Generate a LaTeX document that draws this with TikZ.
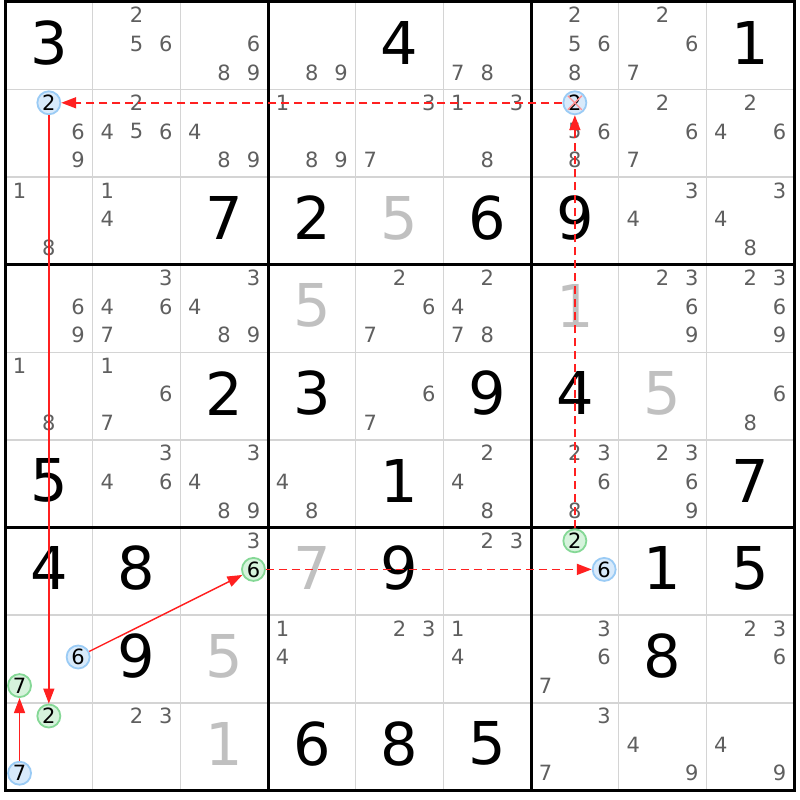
\documentclass[tikz,border=0pt]{standalone}
\usepackage{fontspec}
\setmainfont{DejaVu Sans}
\usetikzlibrary{arrows.meta}
\definecolor{cand}{HTML}{5F5F5F}
\definecolor{ghost}{HTML}{C0C0C0}
\definecolor{thingrid}{HTML}{D4D4D4}
\definecolor{lnk}{HTML}{FF2020}
\definecolor{bfill}{HTML}{D8EAFB}
\definecolor{bdraw}{HTML}{9ACBF5}
\definecolor{gfill}{HTML}{D6F3DC}
\definecolor{gdraw}{HTML}{85D896}
\definecolor{xred}{HTML}{FF9090}
\begin{document}
\begin{tikzpicture}[x=1pt,y=-1pt,
  bigd/.style={font=\fontsize{59}{59}\selectfont, inner sep=0pt},
  givd/.style={bigd, text=black},
  ghostd/.style={bigd, text=ghost},
  candd/.style={font=\fontsize{21}{21}\selectfont, text=cand, inner sep=0pt},
  circbase/.style={circle, line width=1.8pt, minimum size=23pt, inner sep=0pt, font=\fontsize{21}{21}\selectfont, text=black},
  circb/.style={circbase, draw=bdraw, fill=bfill},
  circg/.style={circbase, draw=gdraw, fill=gfill},
  strong/.style={draw=lnk, line width=1.4pt, -{Triangle[length=15pt,width=11pt]}},
  weak/.style={strong, line width=1.8pt, dash pattern=on 8pt off 5pt},
  thinline/.style={draw=thingrid, line width=1.5pt},
  thickline/.style={draw=black, line width=3pt, line cap=rect},
]
\useasboundingbox (0,0) rectangle (800,800);
\fill[white] (0,0) rectangle (800,800);
% grid
\foreach \i in {1,2,4,5,7,8} {
  \draw[thinline] ({5+\i*87.67},2) -- ({5+\i*87.67},790.4);
  \draw[thinline] (5,{2+\i*87.6}) -- (794,{2+\i*87.6});
}
\foreach \i in {0,3,6,9} {
  \draw[thickline] ({5+\i*87.67},2) -- ({5+\i*87.67},790.4);
  \draw[thickline] (5,{2+\i*87.6}) -- (794,{2+\i*87.6});
}
% given digits
\foreach \R/\C/\D in {0/0/3, 0/4/4, 0/8/1, 2/2/7, 2/3/2, 2/5/6, 2/6/9, 4/2/2, 4/3/3, 4/5/9, 4/6/4, 5/0/5, 5/4/1, 5/8/7, 6/0/4, 6/1/8, 6/4/9, 6/7/1, 6/8/5, 7/1/9, 7/7/8, 8/3/6, 8/4/8, 8/5/5}
  \node[givd] (g\R\C) at ({5+(\C+0.5)*87.67}, {2+(\R+0.5)*87.6-3}) {\D};
\foreach \R/\C/\D in {2/4/5, 3/3/5, 3/6/1, 4/7/5, 6/3/7, 7/2/5, 8/2/1}
  \node[ghostd] (h\R\C) at ({5+(\C+0.5)*87.67}, {2+(\R+0.5)*87.6-3}) {\D};
% candidates
\foreach \R/\C/\L in {0/1/{2,5,6}, 0/2/{6,8,9}, 0/3/{8,9}, 0/5/{7,8}, 0/6/{2,5,6,8}, 0/7/{2,6,7},
  1/0/{6,9}, 1/1/{2,4,5,6}, 1/2/{4,8,9}, 1/3/{1,8,9}, 1/4/{3,7}, 1/5/{1,3,8}, 1/6/{5,6,8}, 1/7/{2,6,7}, 1/8/{2,4,6},
  2/0/{1,8}, 2/1/{1,4}, 2/7/{3,4}, 2/8/{3,4,8},
  3/0/{6,9}, 3/1/{3,4,6,7}, 3/2/{3,4,8,9}, 3/4/{2,6,7}, 3/5/{2,4,7,8}, 3/7/{2,3,6,9}, 3/8/{2,3,6,9},
  4/0/{1,8}, 4/1/{1,6,7}, 4/4/{6,7}, 4/8/{6,8},
  5/1/{3,4,6}, 5/2/{3,4,8,9}, 5/3/{4,8}, 5/5/{2,4,8}, 5/6/{2,3,6,8}, 5/7/{2,3,6,9},
  6/2/{3}, 6/5/{2,3},
  7/3/{1,4}, 7/4/{2,3}, 7/5/{1,4}, 7/6/{3,6,7}, 7/8/{2,3,6},
  8/1/{2,3}, 8/6/{3,7}, 8/7/{4,9}, 8/8/{4,9}} {
  \foreach \D in \L {
    \node[candd] (k\R\C\D) at ({5+(\C+0.5)*87.67+(mod(\D-1,3)-1)*29.3}, {2+(\R+0.5)*87.6-2+(floor((\D-1)/3)-1)*28.6}) {\D};
  }
}
% circled candidates
\foreach \R/\C/\D in {1/0/2, 1/6/2, 6/6/6, 7/0/6, 8/0/7}
  \node[circb] (m\R\C\D) at ({5+(\C+0.5)*87.67+(mod(\D-1,3)-1)*29.3}, {2+(\R+0.5)*87.6-2+(floor((\D-1)/3)-1)*28.6}) {\D};
\foreach \R/\C/\D in {6/2/6, 6/6/2, 7/0/7, 8/0/2}
  \node[circg] (m\R\C\D) at ({5+(\C+0.5)*87.67+(mod(\D-1,3)-1)*29.3}, {2+(\R+0.5)*87.6-2+(floor((\D-1)/3)-1)*28.6}) {\D};
% cross on eliminated candidate
\draw[xred, line width=1.3pt, shorten <=2.5pt, shorten >=2.5pt] (m162.north west) -- (m162.south east);
\draw[xred, line width=1.3pt, shorten <=2.5pt, shorten >=2.5pt] (m162.north east) -- (m162.south west);
% links
\draw[weak] (m162) -- (m102);
\draw[strong] (m102) -- (m802);
\draw[weak] (m662) -- (m162);
\draw[strong] (m706) -- (m626);
\draw[weak] (m626) -- (m666);
\draw[strong] (m807) -- (m707);
\end{tikzpicture}
\end{document}
